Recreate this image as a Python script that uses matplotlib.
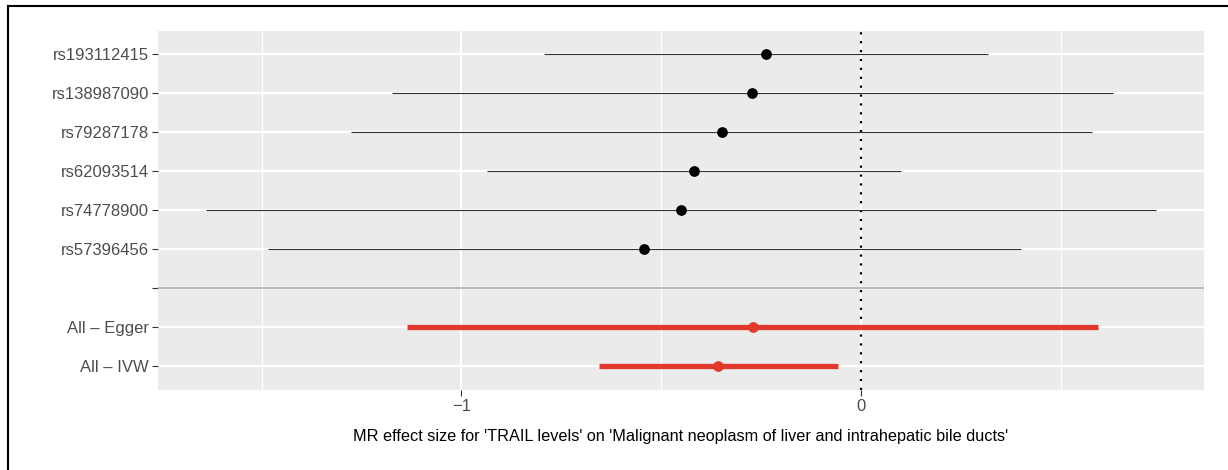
import matplotlib
matplotlib.use("Agg")
import matplotlib.pyplot as plt
from matplotlib.lines import Line2D

plt.rcParams['font.family'] = ['Liberation Sans', 'DejaVu Sans']

# per-SNP Wald ratio estimates with 95% CI
snps = ["rs193112415", "rs138987090", "rs79287178", "rs62093514", "rs74778900", "rs57396456"]
snp_b = [-0.239, -0.273, -0.349, -0.419, -0.451, -0.544]
snp_lo = [-0.794, -1.174, -1.276, -0.936, -1.640, -1.485]
snp_hi = [0.317, 0.630, 0.578, 0.098, 0.738, 0.400]

# combined estimates
methods = ["All \u2013 Egger", "All \u2013 IVW"]
method_b = [-0.272, -0.358]
method_lo = [-1.137, -0.656]
method_hi = [0.592, -0.058]

xlabel = "MR effect size for 'TRAIL levels' on 'Malignant neoplasm of liver and intrahepatic bile ducts'"

W, H = 1228, 470
fig = plt.figure(figsize=(W / 100, H / 100), dpi=100)
ax = fig.add_axes([158 / W, 80 / H, (1204 - 158) / W, (390 - 31) / H])
ax.set_facecolor("#EBEBEB")
for s in ax.spines.values():
    s.set_visible(False)

labels = snps + [""] + methods
ypos = list(range(1, len(labels) + 1))
snp_y = ypos[:len(snps)]
sep_y = ypos[len(snps)]
method_y = ypos[len(snps) + 1:]

# ggplot-like limits: data range plus 5% each side
lo_all = min(snp_lo + method_lo)
hi_all = max(snp_hi + method_hi)
pad = 0.05 * (hi_all - lo_all)
ax.set_xlim(lo_all - pad, hi_all + pad)
ax.set_ylim(len(labels) + 0.62, 0.4)

ax.set_xticks([-1, 0])
ax.set_xticks([-1.5, -0.5, 0.5], minor=True)
ax.set_yticks(ypos)
ax.set_yticklabels(labels)
ax.grid(which="major", color="white", lw=1.6)
ax.grid(which="minor", axis="x", color="white", lw=0.8)
ax.set_axisbelow(True)
ax.tick_params(which="major", color="#333333", length=4, width=0.8,
               labelsize=12, labelcolor="#4D4D4D", pad=2.5)
ax.tick_params(which="minor", length=0)

ax.axhline(sep_y, color="#B3B3B3", lw=1.3, zorder=2)
ax.axvline(0, color="black", lw=1.6, ls=(0, (1, 3)), zorder=2)

ax.hlines(snp_y, snp_lo, snp_hi, color="#333333", lw=0.8, zorder=3)
ax.scatter(snp_b, snp_y, s=45, color="black", zorder=4)

ax.hlines(method_y, method_lo, method_hi, color="#E3392D", lw=3.8, zorder=3)
ax.scatter(method_b, method_y, s=45, color="#E3392D", zorder=4)

ax.set_xlabel(xlabel, fontsize=11.7, color="black", labelpad=11)

# frame around the figure
fig.add_artist(Line2D([8 / W, 8 / W], [0, 1 - 6 / H], color="black", lw=1.5))
fig.add_artist(Line2D([8 / W, 1], [1 - 6 / H, 1 - 6 / H], color="black", lw=1.5))

fig.savefig("out.png", dpi=100)
